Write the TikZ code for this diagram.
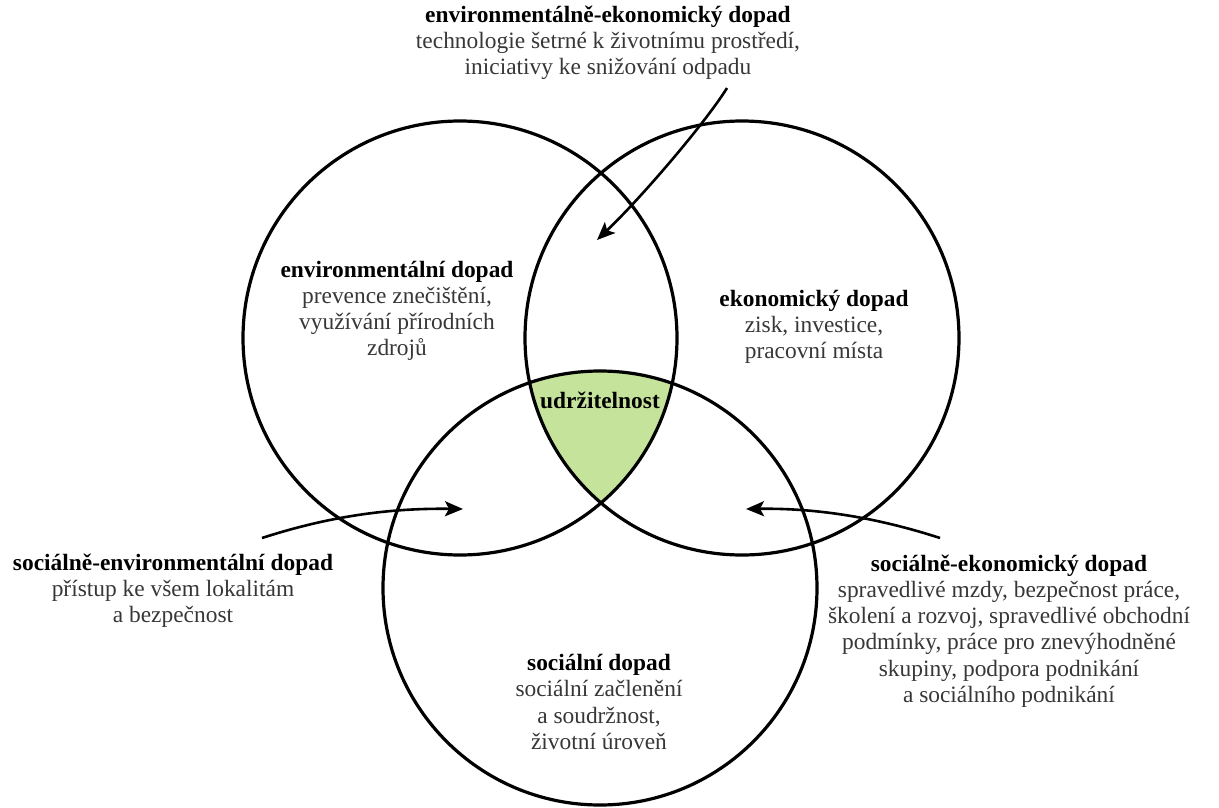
\documentclass[tikz,border=0pt]{standalone}
\usepackage{fontspec}
\setmainfont{Liberation Serif}
\usetikzlibrary{arrows.meta}
\definecolor{corefill}{RGB}{197,227,155}
\definecolor{bodytext}{RGB}{55,55,55}
\tikzset{
  x=1pt, y=-1pt,
  ring/.style={draw=black, line width=3.2pt},
  impact/.style={align=center, font=\fontsize{23.4}{26.2}\selectfont, text=bodytext, inner sep=0pt},
  pointer/.style={draw=black, line width=2.6pt,
    -{Stealth[length=18pt,width=15pt,inset=4pt]}},
}
\newcommand{\hd}[1]{\textcolor{black}{\bfseries #1}}
\begin{document}
\begin{tikzpicture}
  \useasboundingbox (0,0) rectangle (1219,808);

  % circle centres
  \coordinate (cL) at (460,338);
  \coordinate (cR) at (742,338);
  \coordinate (cB) at (600,588);

  % common core of the three circles
  \begin{scope}
    \clip (cL) circle (217);
    \clip (cR) circle (217);
    \fill[corefill] (cB) circle (217);
  \end{scope}

  \draw[ring] (cL) circle (217);
  \draw[ring] (cR) circle (217);
  \draw[ring] (cB) circle (217);

  % labels
  \node[impact] (env) at (397,311) {\hd{environmentální dopad}\\prevence znečištění,\\využívání přírodních\\zdrojů};
  \node[impact] (eco) at (814,327) {\hd{ekonomický dopad}\\zisk, investice,\\pracovní místa};
  \node[impact] (soc) at (599,702) {\hd{sociální dopad}\\sociální začlenění\\a soudržnost,\\životní úroveň};
  \node[impact] (core) at (600,400) {\hd{udržitelnost}};

  \node[impact] (envEco) at (608,43) {\hd{environmentálně-ekonomický dopad}\\technologie šetrné k životnímu prostředí,\\iniciativy ke snižování odpadu};
  \node[impact] (socEnv) at (173,591) {\hd{sociálně-environmentální dopad}\\přístup ke všem lokalitám\\a bezpečnost};
  \node[impact] (socEco) at (1009,631) {\hd{sociálně-ekonomický dopad}\\spravedlivé mzdy, bezpečnost práce,\\školení a rozvoj, spravedlivé obchodní\\podmínky, práce pro znevýhodněné\\skupiny, podpora podnikání\\a sociálního podnikání};

  % arrow ends
  \coordinate (aTop) at (727,88);
  \coordinate (aTopTip) at (597,240);
  \coordinate (aLeft) at (262,538);
  \coordinate (aLeftTip) at (463,509);
  \coordinate (aRight) at (940,538);
  \coordinate (aRightTip) at (746,509);

  \draw[pointer] (aTop) .. controls (706,122) and (642,197) .. (aTopTip);
  \draw[pointer] (aLeft) .. controls (330,516) and (390,508) .. (aLeftTip);
  \draw[pointer] (aRight) .. controls (872,516) and (812,508) .. (aRightTip);
\end{tikzpicture}
\end{document}
